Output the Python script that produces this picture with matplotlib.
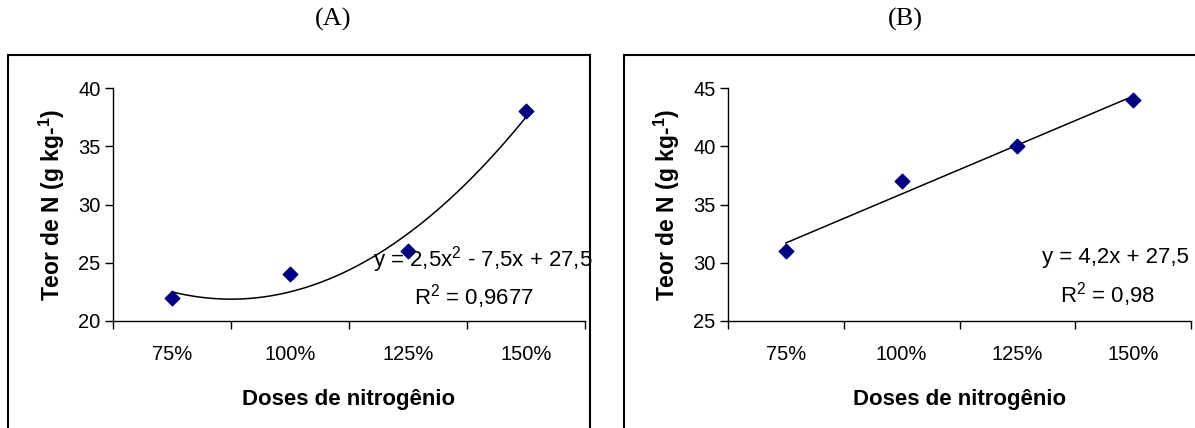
import numpy as np
import matplotlib
matplotlib.use("Agg")
import matplotlib.pyplot as plt
from matplotlib.patches import Rectangle

plt.rcParams['font.family'] = ['Liberation Sans', 'DejaVu Sans']
plt.rcParams['mathtext.fontset'] = 'custom'
plt.rcParams['mathtext.rm'] = 'Liberation Sans'
plt.rcParams['mathtext.it'] = 'Liberation Sans:italic'
plt.rcParams['mathtext.bf'] = 'Liberation Sans:bold'

# Nitrogen doses and measured N content
doses = ["75%", "100%", "125%", "150%"]
teor_a = [22, 24, 26, 38]
teor_b = [31, 37, 40, 44]

W, H = 1195, 428
fig = plt.figure(figsize=(W / 100, H / 100), dpi=100)

def fx(px):
    return px / W

def fy(py):
    return 1 - py / H

def fmt(v):
    s = f"{v:.1f}".replace(".", ",")
    return s

def panel(left_px, right_px, values, ylim, degree, eq_pos, r2_pos, title, title_x):
    ax = fig.add_axes([fx(left_px), fy(321), fx(right_px - left_px), (321 - 88) / H])
    x = np.arange(1, len(values) + 1)
    ax.scatter(x, values, marker='D', s=55, color='#000080', zorder=3)

    coef = np.polyfit(x, values, degree)
    fitted = np.polyval(coef, x)
    r2 = 1 - np.sum((np.array(values) - fitted) ** 2) / np.sum((np.array(values) - np.mean(values)) ** 2)
    xs = np.linspace(1, len(values), 200)
    ax.plot(xs, np.polyval(coef, xs), color='black', lw=1.1, zorder=2)

    ax.set_xlim(0.5, len(values) + 0.5)
    ax.set_ylim(*ylim)
    ax.set_yticks(np.arange(ylim[0], ylim[1] + 1, 5))
    ax.set_xticks(np.arange(0.5, len(values) + 1, 1))
    ax.set_xticklabels([])
    ax.set_xticks(x, minor=True)
    ax.set_xticklabels(doses, minor=True)
    ax.tick_params(axis='x', which='minor', length=0, pad=17, labelsize=14.5)
    ax.tick_params(axis='x', which='major', length=6, direction='out', width=1)
    ax.tick_params(axis='y', length=6, direction='out', width=1, labelsize=14.5, pad=3)
    for s in ('top', 'right'):
        ax.spines[s].set_visible(False)
    for s in ('left', 'bottom'):
        ax.spines[s].set_linewidth(1)
    ax.set_ylabel("Teor de N (g kg-$^{\\mathbf{1}}$)", fontsize=16.5, fontweight='bold', labelpad=8)
    ax.set_xlabel("Doses de nitrogênio", fontsize=16, fontweight='bold', labelpad=18)

    if degree == 2:
        a, b, c = coef
        sign_b = "-" if b < 0 else "+"
        eq = f"y = {fmt(a)}x$^2$ {sign_b} {fmt(abs(b))}x + {fmt(c)}"
    else:
        a, c = coef
        eq = f"y = {fmt(a)}x + {fmt(c)}"
    r2_txt = f"R$^2$ = {r2:.4f}".rstrip("0").replace(".", ",")
    fig.text(fx(eq_pos[0]), fy(eq_pos[1]), eq, fontsize=16, ha='right', va='center')
    fig.text(fx(r2_pos[0]), fy(r2_pos[1]), r2_txt, fontsize=16, ha='center', va='center')
    fig.text(fx(title_x), fy(19), title, fontsize=19, ha='center', va='center',
             family=['Liberation Serif', 'DejaVu Serif'])
    return ax

panel(113, 585, teor_a, (20, 40), 2, (593, 260), (474, 297), "(A)", 333)
panel(728, 1191, teor_b, (25, 45), 1, (1189, 258), (1108, 295), "(B)", 905)

# Outer frames around each chart
for x0, x1 in ((8, 590), (624, 1200)):
    fig.patches.append(Rectangle((fx(x0), fy(H + 5)), fx(x1 - x0), fy(55) - fy(H + 5),
                                 transform=fig.transFigure, fill=False,
                                 edgecolor='black', lw=1.5))

fig.savefig("out.png", dpi=100)
